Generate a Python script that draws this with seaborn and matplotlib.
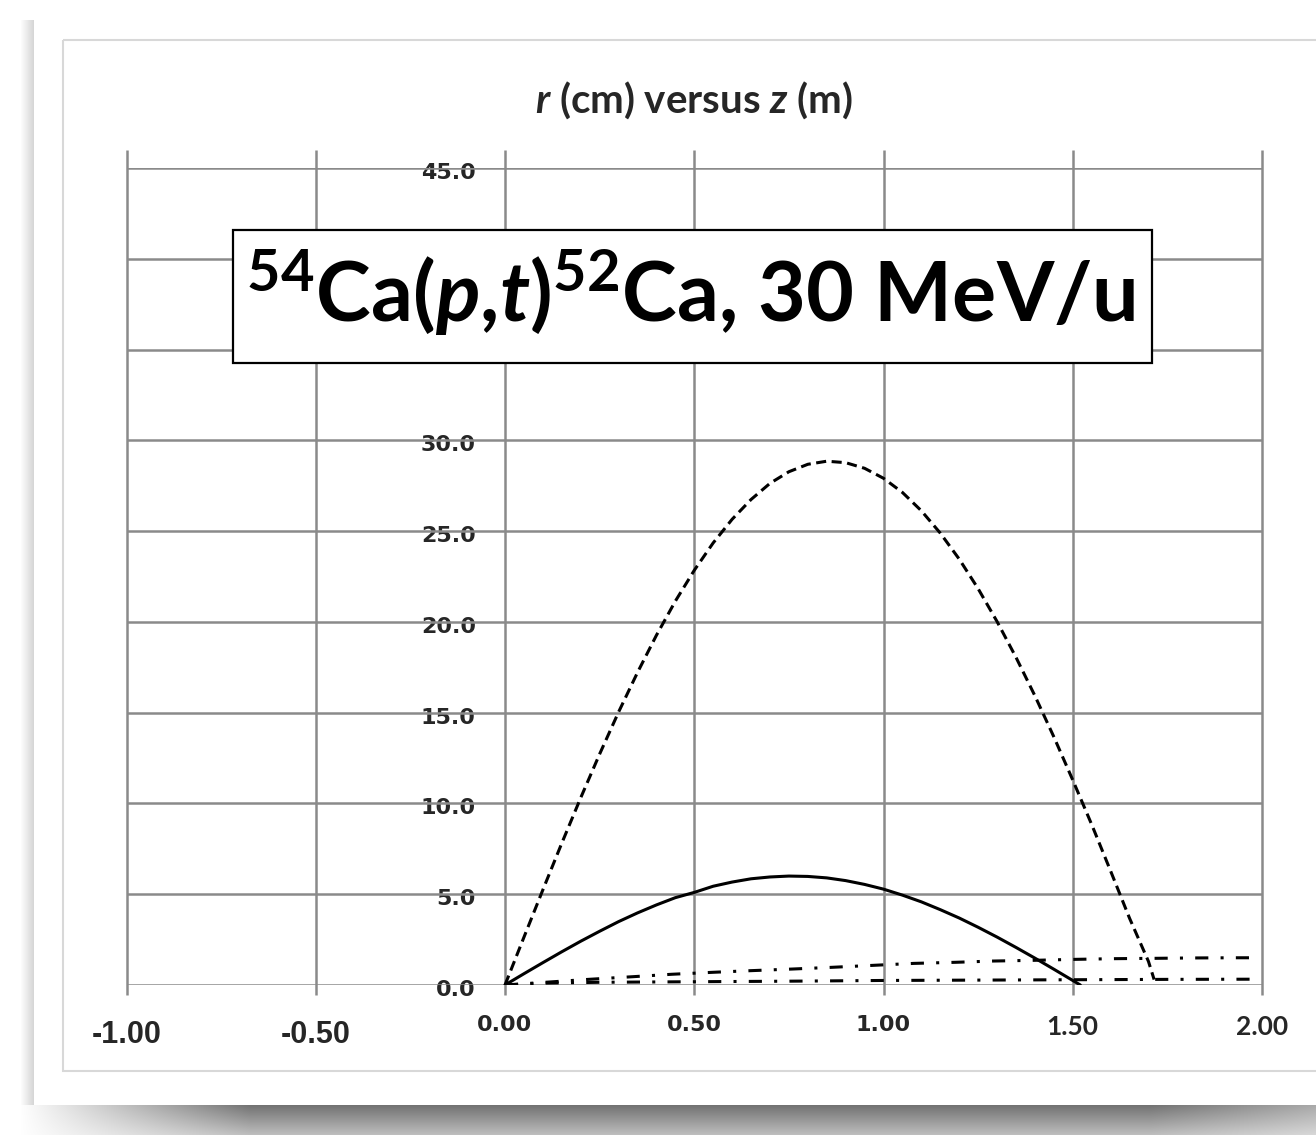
import numpy as np
import matplotlib
matplotlib.use("Agg")
import matplotlib.pyplot as plt
import seaborn as sns
from matplotlib.patches import Rectangle
from matplotlib.transforms import ScaledTranslation

# ---- data: radius r (cm) versus axial position z (m) ----
z_dashed = [0.00, 0.05, 0.10, 0.15, 0.20, 0.25, 0.30, 0.35, 0.40, 0.45, 0.50, 0.55,
            0.60, 0.65, 0.70, 0.75, 0.80, 0.85, 0.90, 0.95, 1.00, 1.05, 1.10, 1.15,
            1.20, 1.25, 1.30, 1.35, 1.40, 1.45, 1.50, 1.55, 1.60, 1.65, 1.70, 1.715]
r_dashed = [0.00, 2.63, 5.24, 7.81, 10.31, 12.72, 15.03, 17.21, 19.26, 21.14, 22.84, 24.35,
            25.65, 26.74, 27.63, 28.27, 28.68, 28.85, 28.77, 28.46, 27.91, 27.13, 26.12, 24.89,
            23.46, 21.83, 20.02, 18.05, 15.93, 13.67, 11.29, 8.84, 6.28, 3.68, 1.30, 0.30]

z_solid = [0.00, 0.05, 0.10, 0.15, 0.20, 0.25, 0.30, 0.35, 0.40, 0.45, 0.50, 0.55,
           0.60, 0.65, 0.70, 0.75, 0.80, 0.85, 0.90, 0.95, 1.00, 1.05, 1.10, 1.15,
           1.20, 1.25, 1.30, 1.35, 1.40, 1.45, 1.50, 1.52]
r_solid = [0.00, 0.62, 1.23, 1.83, 2.41, 2.96, 3.49, 3.97, 4.41, 4.81, 5.10, 5.44,
           5.67, 5.85, 5.95, 6.00, 5.98, 5.90, 5.75, 5.54, 5.28, 4.95, 4.58, 4.15,
           3.69, 3.18, 2.64, 2.07, 1.48, 0.87, 0.25, 0.00]

z_dashdot_hi = [0.00, 0.10, 0.22, 0.34, 0.44, 0.55, 0.65, 0.76, 0.86, 0.97,
                1.08, 1.19, 1.29, 1.40, 1.50, 1.61, 1.72, 1.82, 1.93, 1.99]
r_dashdot_hi = [0.00, 0.14, 0.31, 0.46, 0.59, 0.70, 0.79, 0.88, 0.97, 1.08,
                1.19, 1.25, 1.32, 1.36, 1.41, 1.45, 1.47, 1.49, 1.50, 1.50]

z_dashdot_lo = [0.00, 0.10, 0.25, 0.50, 0.75, 1.00, 1.25, 1.50, 1.75, 1.99]
r_dashdot_lo = [0.00, 0.10, 0.15, 0.18, 0.21, 0.25, 0.27, 0.29, 0.31, 0.32]

x_ticks = [-1.0, -0.5, 0.0, 0.5, 1.0, 1.5, 2.0]
x_tick_labels = ["-1.00", "-0.50", "0.00", "0.50", "1.00", "1.50", "2.00"]
# gridlines every 5 cm; the 35 and 40 labels sit behind the reaction box
y_ticks = [0, 5, 10, 15, 20, 25, 30, 35, 40, 45]
y_tick_labels = ["0.0", "5.0", "10.0", "15.0", "20.0", "25.0", "30.0", "", "", "45.0"]

title_text = r"$\mathit{r}$ (cm) versus $\mathit{z}$ (m)"
reaction_text = r"$^{\mathrm{54}}$Ca($\mathit{p}$,$\mathit{t}$)$^{\mathrm{52}}$Ca, 30 MeV/u"

# ---- style ----
sns.set_style("white")
plt.rcParams["font.family"] = ["DejaVu Sans"]
plt.rcParams["mathtext.fontset"] = "custom"
plt.rcParams["mathtext.rm"] = "Lato:bold"
plt.rcParams["mathtext.bf"] = "Lato:bold"
plt.rcParams["mathtext.it"] = "Lato:bold:italic"

W, H = 1316, 1135
fig = plt.figure(figsize=(W / 100, H / 100), dpi=100)
fig.patch.set_facecolor("white")

# ---- page background with drop shadow and chart frame ----
bg = fig.add_axes([0, 0, 1, 1], zorder=-5)
bg.set_xlim(0, W)
bg.set_ylim(H, 0)
bg.axis("off")
img = np.ones((H, W, 3))
cols = np.arange(W)
hfac = np.clip((cols - 20) / 230.0, 0, 1) * np.clip(1 - (cols - 1150) / 420.0, 0.55, 1)
for row in range(1105, H):
    t = (row - 1105) / 30.0
    dark = hfac * 0.55 * (1 - 0.55 * t)
    img[row, :, :] = (1 - dark)[:, None]
for col in range(20, 34):
    img[20:1105, col, :] = 1 - 0.16 * (col - 20) / 13.0
bg.imshow(img, extent=(0, W, H, 0), aspect="auto", interpolation="bilinear")
bg.add_patch(Rectangle((63, 40), W, 1031, fill=False, edgecolor="#d8d8d8", lw=1.5))

# ---- main axes ----
ax = fig.add_axes([126.5 / W, 1 - 985 / H, (1262 - 126.5) / W, (985 - 168) / H])
ax.patch.set_visible(False)
ax.set_xlim(-1.0, 2.0)
ax.set_ylim(0, 45)
for s in ax.spines.values():
    s.set_visible(False)

grid_c = "#8a8a8a"
ax.hlines(y_ticks, -1.0, 2.0, color=grid_c, lw=1.8, zorder=1)
ax.vlines(x_ticks, -0.55, 46.0, color=grid_c, lw=1.8, zorder=1, clip_on=False)

lw = 2.2
sns.lineplot(x=z_dashed, y=r_dashed, ax=ax, color="black", lw=lw, sort=False,
             estimator=None, linestyle=(0, (3.3, 1.8)), dash_capstyle="butt", zorder=3)
sns.lineplot(x=z_solid, y=r_solid, ax=ax, color="black", lw=lw, sort=False,
             estimator=None, zorder=3)
sns.lineplot(x=z_dashdot_hi, y=r_dashdot_hi, ax=ax, color="black", lw=lw, sort=False,
             estimator=None, linestyle=(0, (4.3, 4.0, 1.0, 4.0)), dash_capstyle="butt", zorder=3)
sns.lineplot(x=z_dashdot_lo, y=r_dashdot_lo, ax=ax, color="black", lw=lw, sort=False,
             estimator=None, linestyle=(0, (4.3, 4.0, 1.0, 4.0)), dash_capstyle="butt", zorder=3)

# y tick labels sit beside the z = 0 axis
ax.spines["left"].set_position(("data", 0))
ax.set_yticks(y_ticks, y_tick_labels)
ax.tick_params(axis="y", length=0, pad=21)
for lab in ax.get_yticklabels():
    lab.set_fontfamily("DejaVu Sans")
    lab.set_fontweight("bold")
    lab.set_fontsize(16)
    lab.set_transform(lab.get_transform() + ScaledTranslation(0, -3 / 100, fig.dpi_scale_trans))

ax.set_xticks(x_ticks, x_tick_labels)
ax.tick_params(axis="x", length=0, pad=21.6)
for lab in ax.get_xticklabels():
    txt = lab.get_text()
    lab.set_fontweight("bold")
    if txt.startswith("-"):
        lab.set_fontfamily("Liberation Sans")
        lab.set_fontsize(22)
        lab.set_transform(lab.get_transform() + ScaledTranslation(0, -4.6 / 100, fig.dpi_scale_trans))
    elif txt in ("1.50", "2.00"):
        lab.set_fontfamily("Lato")
        lab.set_fontsize(19)
    else:
        lab.set_fontfamily("DejaVu Sans")
        lab.set_fontsize(16)

ax.set_title(title_text, fontfamily="Lato", fontweight="bold", fontsize=29, pad=40)

# reaction label in a framed box
ax.add_patch(Rectangle((0.0938, 0.7613), 0.9031 - 0.0938, 0.9241 - 0.7613,
                       transform=ax.transAxes, facecolor="white", edgecolor="black",
                       lw=1.6, zorder=8, clip_on=False))
ax.text(0.4967, 0.8115, reaction_text, transform=ax.transAxes, ha="center", va="baseline",
        fontfamily="Lato", fontweight="bold", fontsize=59.5, color="black", zorder=9)

fig.savefig("out.png", dpi=100)
